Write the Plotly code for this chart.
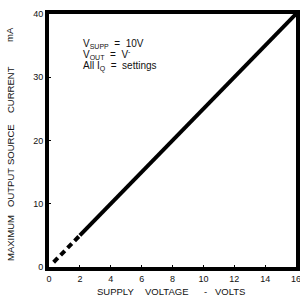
import plotly.graph_objects as go

solid_x = [2, 16]
solid_y = [5, 40]
dash_x = [0.3, 2]
dash_y = [0.75, 5]
x_ticks = [0, 2, 4, 6, 8, 10, 12, 14, 16]
y_ticks = [0, 10, 20, 30, 40]

W, H = 300, 299
L, R, T, B = 49, 4, 14, 32
PW, PH = W - L - R, H - T - B

def px(x):
    return (x - L) / PW

def py(y):
    return (H - B - y) / PH

fig = go.Figure()
fig.add_trace(go.Scatter(x=dash_x, y=dash_y, mode="lines",
                         line=dict(color="black", width=4, dash="6px,4px"), showlegend=False))
fig.add_trace(go.Scatter(x=solid_x, y=solid_y, mode="lines",
                         line=dict(color="black", width=4), showlegend=False))

fam = "Liberation Sans, Arial"
tf = dict(family=fam, size=9, color="#111")
fig.update_layout(
    width=W, height=H,
    margin=dict(l=L, r=R, t=T, b=B, autoexpand=False),
    paper_bgcolor="white", plot_bgcolor="white",
    showlegend=False,
    font=tf,
    xaxis=dict(range=[0, 16], tickvals=x_ticks, showgrid=False, zeroline=False,
               showline=True, linewidth=4, linecolor="black", mirror=True,
               ticks="inside", ticklen=2, tickcolor="black", automargin=False,
               ticklabeloverflow="allow", tickfont=tf),
    yaxis=dict(range=[0, 40], tickvals=y_ticks, showgrid=False, zeroline=False,
               showline=True, linewidth=4, linecolor="black", mirror=True,
               ticks="inside", ticklen=2, tickcolor="black", automargin=False,
               ticklabeloverflow="allow", tickfont=tf),
)

af = dict(family=fam, size=9.5, color="#111")
ytitle = [("MAXIMUM", 238), ("OUTPUT", 188), ("SOURCE", 145), ("CURRENT", 90), ("mA", 35)]
for t, yy in ytitle:
    fig.add_annotation(xref="paper", yref="paper", x=px(10), y=py(yy), xanchor="center", yanchor="middle",
                       text=t, textangle=-90, showarrow=False, font=af)
xtitle = [("SUPPLY", 115), ("VOLTAGE", 166), ("-", 205), ("VOLTS", 230)]
for t, xx in xtitle:
    fig.add_annotation(xref="paper", yref="paper", x=px(xx), y=py(291), xanchor="center", yanchor="middle",
                       text=t, showarrow=False, font=af)

labels = ["V<sub>SUPP</sub>  =  10V", "V<sub>OUT</sub>  =  V<sup>-</sup>", "All I<sub>Q</sub>  =  settings"]
ys = [44, 55, 66]
for t, yy in zip(labels, ys):
    fig.add_annotation(xref="paper", yref="paper", x=px(81), y=py(yy), xanchor="left", yanchor="middle",
                       text=t, showarrow=False, font=dict(family=fam, size=10, color="#111"))

fig.write_html("out.html", config={"displayModeBar": False},
               post_script="document.body.style.margin='0';document.body.style.overflow='hidden';")
